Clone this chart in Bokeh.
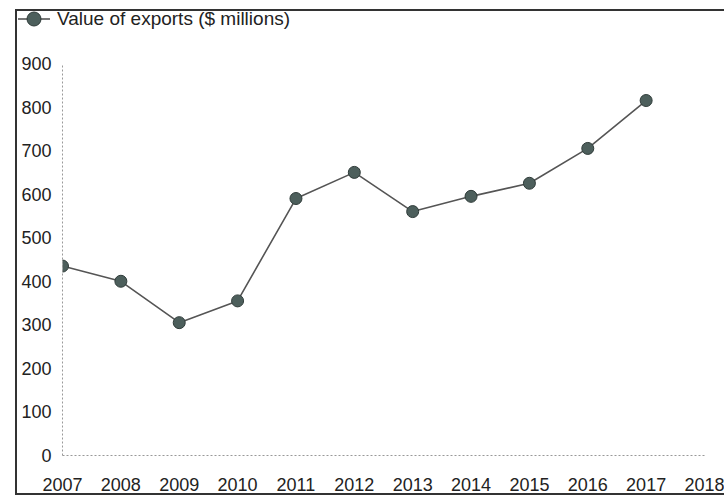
from bokeh.plotting import figure
from bokeh.layouts import column
from bokeh.models import Div, FixedTicker
from bokeh.embed import file_html
from bokeh.resources import INLINE

years = [2007, 2008, 2009, 2010, 2011, 2012, 2013, 2014, 2015, 2016, 2017]
exports = [435, 400, 305, 355, 590, 650, 560, 595, 625, 705, 815]
x_ticks = list(range(2007, 2019))
y_ticks = [0, 100, 200, 300, 400, 500, 600, 700, 800, 900]
series_name = "Value of exports ($ millions)"

LINE_COLOR = "#555555"
MARK_FILL = "#4d5f5c"
MARK_LINE = "#2f3b39"
FONT = "Liberation Sans"

# Main chart
p = figure(width=707, height=442, output_backend="svg", toolbar_location=None,
           x_range=(2007, 2018), y_range=(0, 900),
           min_border_left=45, min_border_right=20, min_border_top=12, min_border_bottom=37)
p.background_fill_color = "white"
p.border_fill_color = "white"
p.outline_line_color = None
p.xgrid.grid_line_color = None
p.ygrid.grid_line_color = None

for ax in (p.xaxis[0], p.yaxis[0]):
    ax.axis_line_color = "#999999"
    ax.axis_line_dash = "2 2"
    ax.major_tick_line_color = None
    ax.minor_tick_line_color = None
    ax.major_label_text_font = FONT
    ax.major_label_text_color = "#222222"
p.xaxis.ticker = FixedTicker(ticks=x_ticks)
p.yaxis.ticker = FixedTicker(ticks=y_ticks)
p.xaxis.major_label_text_font_size = "18px"
p.yaxis.major_label_text_font_size = "18px"
p.xaxis.major_label_standoff = 16
p.yaxis.major_label_standoff = 5

p.line(years, exports, line_color=LINE_COLOR, line_width=1.6)
p.scatter(years, exports, size=12, fill_color=MARK_FILL, line_color=MARK_LINE, line_width=1)

# Legend strip (series key)
legend_html = (
    f'<div style="display:flex;align-items:center;height:16px;margin:0;padding:0;'
    f'font-family:\'{FONT}\';font-size:19px;line-height:16px;color:#222222;white-space:nowrap">'
    f'<svg width="32" height="16" style="margin-left:1px;flex:none">'
    f'<line x1="0" y1="8" x2="32" y2="8" stroke="{LINE_COLOR}" stroke-width="1.6"/>'
    f'<circle cx="16" cy="8" r="7" fill="{MARK_FILL}" stroke="{MARK_LINE}" stroke-width="1"/>'
    f'</svg><span style="margin-left:7px">{series_name}</span></div>'
)
key = Div(text=legend_html, width=707, height=40, margin=(0, 0, 0, 0))

layout = column(key, p, spacing=0, margin=(9, 0, 0, 15),
                styles={"border-left": "2px solid #333333",
                        "border-top": "2px solid #333333",
                        "border-bottom": "2px solid #333333"})

open("out.html", "w").write(file_html(layout, INLINE))
